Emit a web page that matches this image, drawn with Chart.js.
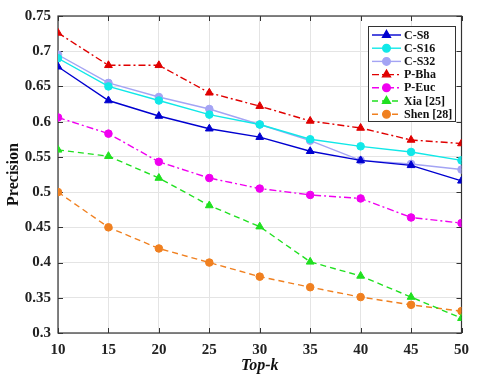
<!DOCTYPE html>
<html>
<head>
<meta charset="utf-8">
<script src="https://cdn.jsdelivr.net/npm/chart.js@4/dist/chart.umd.min.js"></script>
<style>
  html, body { margin: 0; padding: 0; background: #fff; }
  #wrap { width: 477px; height: 383px; }
</style>
</head>
<body>
<div id="wrap"><canvas id="c" width="477" height="383"></canvas></div>
<script>
const topK = [10, 15, 20, 25, 30, 35, 40, 45, 50];
const yTicks = [0.3, 0.35, 0.4, 0.45, 0.5, 0.55, 0.6, 0.65, 0.7, 0.75];
const seriesNames = ['C-S8', 'C-S16', 'C-S32', 'P-Bha', 'P-Euc', 'Xia [25]', 'Shen [28]'];
const cS8  = [0.678, 0.630, 0.608, 0.590, 0.578, 0.558, 0.545, 0.538, 0.516];
const cS16 = [0.690, 0.650, 0.630, 0.610, 0.596, 0.575, 0.565, 0.557, 0.545];
const cS32 = [0.695, 0.655, 0.635, 0.618, 0.596, 0.573, 0.545, 0.540, 0.532];
const pBha = [0.726, 0.680, 0.680, 0.641, 0.622, 0.601, 0.591, 0.574, 0.569];
const pEuc = [0.606, 0.583, 0.543, 0.520, 0.505, 0.496, 0.491, 0.464, 0.456];
const xia  = [0.560, 0.551, 0.520, 0.481, 0.451, 0.401, 0.381, 0.351, 0.321];
const shen = [0.500, 0.450, 0.420, 0.400, 0.380, 0.365, 0.351, 0.340, 0.331];

const SERIF = '"Liberation Serif", "Times New Roman", serif';
const pts = arr => arr.map((v, i) => ({ x: topK[i], y: v }));

const styles = [
  { color: '#0000D0', dash: [], shape: 'triangle', r: 4.5 },
  { color: '#10E8E8', dash: [], shape: 'circle', r: 3.8 },
  { color: '#A4A4F4', dash: [], shape: 'circle', r: 3.8 },
  { color: '#E00000', dash: [7, 3, 2, 3], shape: 'triangle', r: 4.5 },
  { color: '#F000F0', dash: [7, 3, 2, 3], shape: 'circle', r: 3.8 },
  { color: '#20E020', dash: [6, 4], shape: 'triangle', r: 4.5 },
  { color: '#F08020', dash: [6, 4], shape: 'circle', r: 3.8 }
];
const values = [cS8, cS16, cS32, pBha, pEuc, xia, shen];

const datasets = values.map((arr, i) => ({
  label: seriesNames[i],
  data: pts(arr),
  borderColor: styles[i].color,
  backgroundColor: styles[i].color,
  pointBackgroundColor: styles[i].color,
  pointBorderColor: styles[i].color,
  borderWidth: 1.4,
  borderDash: styles[i].dash,
  pointStyle: styles[i].shape,
  pointRadius: styles[i].r,
  pointBorderWidth: 1,
  tension: 0,
  fill: false
}));

const boxPlugin = {
  id: 'box',
  beforeDatasetsDraw(chart) {
    const { ctx, chartArea: a, scales } = chart;
    ctx.save();
    ctx.strokeStyle = '#333';
    ctx.lineWidth = 1.2;
    ctx.setLineDash([]);
    ctx.strokeRect(a.left, a.top, a.right - a.left, a.bottom - a.top);
    ctx.lineWidth = 1;
    const L = 5;
    ctx.beginPath();
    topK.forEach(v => {
      const x = Math.round(scales.x.getPixelForValue(v)) + 0.5;
      ctx.moveTo(x, a.bottom); ctx.lineTo(x, a.bottom - L);
      ctx.moveTo(x, a.top); ctx.lineTo(x, a.top + L);
    });
    yTicks.forEach(v => {
      const y = Math.round(scales.y.getPixelForValue(v)) + 0.5;
      ctx.moveTo(a.left, y); ctx.lineTo(a.left + L, y);
      ctx.moveTo(a.right, y); ctx.lineTo(a.right - L, y);
    });
    ctx.stroke();
    ctx.restore();
  }
};

const legendPlugin = {
  id: 'customLegend',
  afterDraw(chart) {
    const { ctx } = chart;
    const x0 = 368, y0 = 26, w = 87, h = 95;
    ctx.save();
    ctx.fillStyle = '#fff';
    ctx.fillRect(x0, y0, w, h);
    ctx.strokeStyle = '#333';
    ctx.lineWidth = 1;
    ctx.strokeRect(x0 + 0.5, y0 + 0.5, w, h);
    ctx.font = 'bold 12px ' + SERIF;
    ctx.textBaseline = 'middle';
    ctx.textAlign = 'left';
    chart.data.datasets.forEach((ds, i) => {
      const y = y0 + 9 + i * 13.2;
      ctx.strokeStyle = ds.borderColor;
      ctx.lineWidth = ds.borderWidth;
      ctx.setLineDash(ds.borderDash);
      ctx.beginPath();
      ctx.moveTo(372, y); ctx.lineTo(401, y);
      ctx.stroke();
      ctx.setLineDash([]);
      ctx.fillStyle = ds.pointBackgroundColor;
      Chart.helpers.drawPoint(ctx, {
        pointStyle: ds.pointStyle, radius: ds.pointRadius, rotation: 0, borderWidth: 1
      }, 386.5, y);
      ctx.fillStyle = '#111';
      ctx.fillText(ds.label, 404, y + 0.5);
    });
    ctx.restore();
  }
};

new Chart(document.getElementById('c'), {
  type: 'line',
  data: { datasets },
  options: {
    responsive: false,
    animation: false,
    devicePixelRatio: 1,
    layout: { padding: { top: 14, right: 11, left: 0, bottom: 0 } },
    plugins: { legend: { display: false }, tooltip: { enabled: false } },
    scales: {
      x: {
        type: 'linear', min: 10, max: 50,
        afterBuildTicks: s => { s.ticks = topK.map(v => ({ value: v })); },
        afterFit: s => { s.height = 50; },
        ticks: { font: { family: SERIF, size: 15, weight: 'bold' }, color: '#222', padding: 8, maxRotation: 0 },
        grid: { color: '#e4e4e4', drawTicks: false, lineWidth: 1 },
        border: { display: false },
        title: { display: true, text: 'Top-k', color: '#111',
          font: { family: SERIF, size: 16, weight: 'bold', style: 'italic' },
          padding: { top: 0, bottom: 8 } }
      },
      y: {
        min: 0.3, max: 0.75,
        afterBuildTicks: s => { s.ticks = yTicks.map(v => ({ value: v })); },
        afterFit: s => { s.width = 58; },
        ticks: { font: { family: SERIF, size: 15, weight: 'bold' }, color: '#222', padding: 7,
          callback: v => String(Number(v.toFixed(2))) },
        grid: { color: '#e4e4e4', drawTicks: false, lineWidth: 1 },
        border: { display: false },
        title: { display: true, text: 'Precision', color: '#111',
          font: { family: SERIF, size: 16, weight: 'bold' },
          padding: { top: 4, bottom: 4 } }
      }
    }
  },
  plugins: [boxPlugin, legendPlugin]
});
</script>
</body>
</html>
